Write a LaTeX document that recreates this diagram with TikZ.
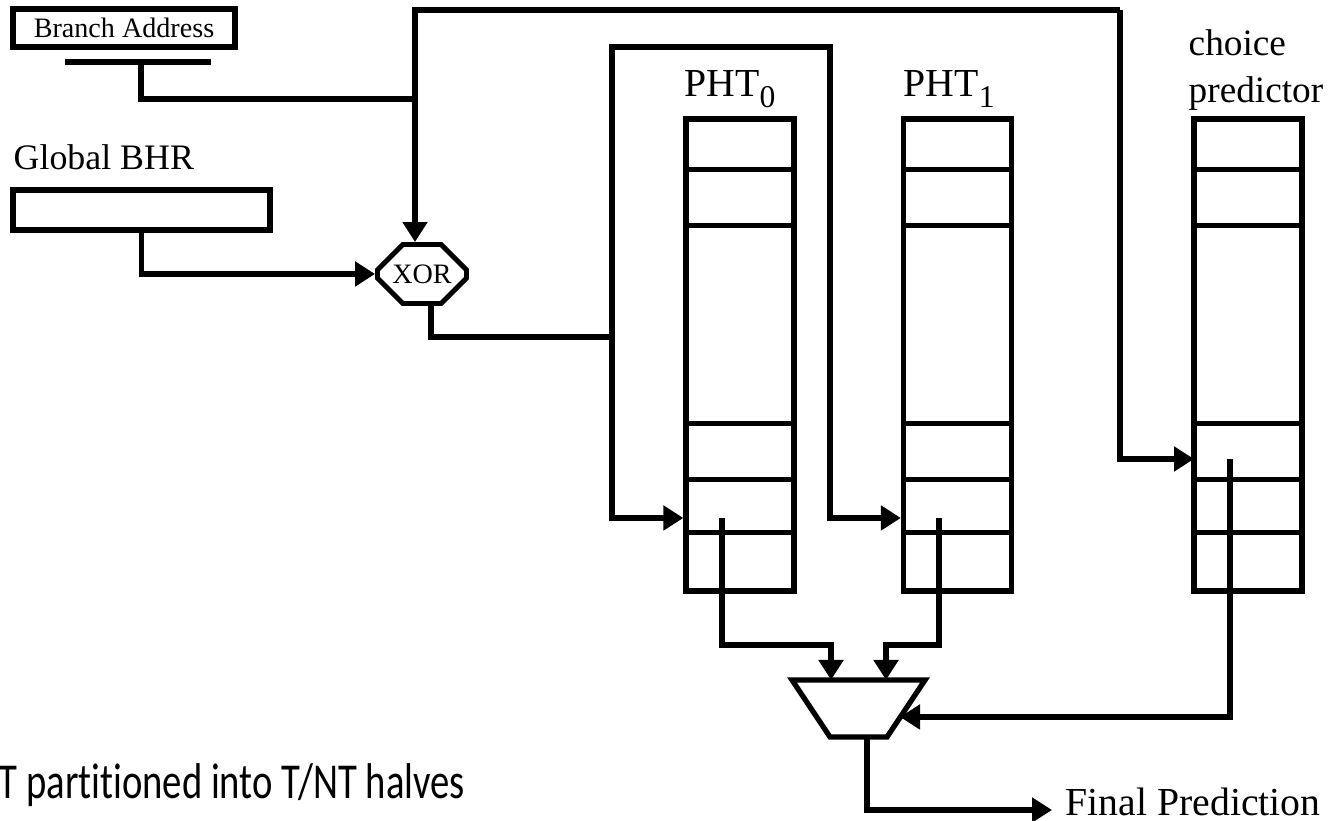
\documentclass[tikz,border=0pt]{standalone}
\usepackage{graphicx}
\usepackage{fontspec}
\setmainfont{Liberation Serif}
\newfontfamily\slidefont[Ligatures=NoCommon]{Carlito}
\usetikzlibrary{arrows.meta, positioning, calc, shapes.misc}

\newcommand\lowsub[1]{\raisebox{-3pt}{\fontsize{9}{10}\selectfont #1}}

\begin{document}
\begin{tikzpicture}[
  wire/.style={line width=1.5pt},
  arr/.style={wire, -{Triangle[length=0.2cm, width=0.24cm]}},
  reg/.style={draw, line width=1.5pt, inner sep=0pt},
  tbl/.style={draw, line width=1.5pt, inner sep=0pt,
              minimum width=1.08cm, minimum height=4.72cm},
  gate/.style={draw, line width=1.4pt, chamfered rectangle,
               chamfered rectangle xsep=0.17cm, chamfered rectangle ysep=0.16cm,
               minimum width=0.89cm, minimum height=0.59cm, inner sep=0pt,
               font=\fontsize{8}{9}\selectfont},
  lab/.style={inner sep=0pt, anchor=base west, font=\fontsize{11.3}{13.4}\selectfont},
  small/.style={font=\fontsize{8}{9}\selectfont},
]
\useasboundingbox (0,0) rectangle (13.32,8.21);

% ---- Inputs ------------------------------------------------------------------
\node[reg, small, minimum width=2.22cm, minimum height=0.38cm] (baddr) at (1.24, 7.93) {Branch Address};
\coordinate (barL) at (0.65, 7.59);
\coordinate (barR) at (2.11, 7.59);
\draw[wire] (barL) -- (barR);

\node[lab, font=\fontsize{10.2}{12}\selectfont] (bhrlab) at (0.13, 6.51) {Global BHR};
\node[reg, minimum width=2.57cm, minimum height=0.40cm] (bhr) at (1.415, 6.11) {};

% ---- XOR and index bus -------------------------------------------------------
\node[gate] (xor) at (4.22, 5.47) {XOR};
\coordinate (bdrop) at (1.41, 7.59);
\coordinate (jA) at (4.15, 7.22);
\coordinate (topL) at (4.15, 8.11);
\coordinate (topR) at (11.20, 8.11);
\draw[wire] (bdrop) |- (jA);
\draw[arr] (topR) -- (topL) -- (topL |- xor.north);
\draw[arr] (bhr.south) |- (xor.west);

\coordinate (busT) at (6.12, 7.74);
\coordinate (busM) at (6.12, 4.84);
\coordinate (busB) at (6.12, 3.03);
\coordinate (bendT) at (8.30, 7.74);
\coordinate (bendB) at (8.30, 3.03);
\draw[wire] ($(xor.south)+(0.09,0)$) |- (busM);

% ---- Tables ------------------------------------------------------------------
\node[tbl] (pht0) at (7.40, 4.66) {};
\node[tbl] (pht1) at (9.575, 4.66) {};
\node[tbl] (choice) at (12.48, 4.66) {};
\foreach \t in {pht0, pht1, choice}
  \foreach \d in {0.53, 1.09, 3.07, 3.63, 4.16}
    \draw[wire] ($(\t.north west)+(0,-\d)$) -- ($(\t.north east)+(0,-\d)$);

\node[lab] (pht0lab) at (6.84, 7.24) {PHT\lowsub{0}};
\node[lab] (pht1lab) at (9.03, 7.24) {PHT\lowsub{1}};
\node[lab, align=left, font=\fontsize{10.6}{13.4}\selectfont] (choicelab) at (11.88, 7.18) {choice\\predictor};

\draw[arr] (busM) -- (busB) -- (busB -| pht0.west);
\draw[arr] (busM) -- (busT) -- (bendT) -- (bendB) -- (bendB -| pht1.west);
\coordinate (cin) at (11.94, 3.62);
\draw[arr] (topR) |- (cin);

% ---- Selector ----------------------------------------------------------------
\coordinate (muxTL) at (7.92, 1.41);
\coordinate (muxTR) at (9.25, 1.41);
\coordinate (muxBR) at (8.87, 0.84);
\coordinate (muxBL) at (8.30, 0.84);
\draw[wire] (muxTL) -- (muxTR) -- (muxBR) -- (muxBL) -- cycle;

\coordinate (out0) at (7.22, 3.03);
\coordinate (out1) at (9.39, 3.03);
\coordinate (outc) at (12.30, 3.62);
\coordinate (in0) at (8.31, 1.41);
\coordinate (in1) at (8.86, 1.41);
\coordinate (inc) at (9.00, 1.04);
\draw[arr] (out0) |- ($(in0)+(0,0.35)$) -- (in0);
\draw[arr] (out1) |- ($(in1)+(0,0.35)$) -- (in1);
\draw[arr] (outc) |- (inc);

% ---- Output ------------------------------------------------------------------
\coordinate (muxo) at (8.67, 0.84);
\coordinate (fpin) at (10.52, 0.11);
\draw[arr] (muxo) |- (fpin);
\node[lab] (final) at (10.65, 0.05) {Final Prediction};

\node[lab, font=\slidefont\fontsize{11}{13}\selectfont] (note) at (-0.02, 0.22)
  {\scalebox{1}[1.3]{T partitioned into T/NT halves}};

\end{tikzpicture}
\end{document}
